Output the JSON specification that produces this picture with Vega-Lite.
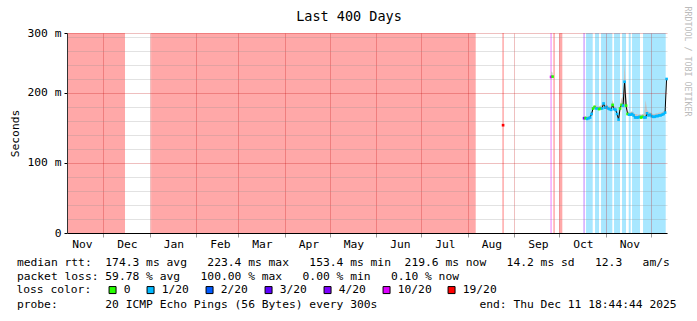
{
  "$schema": "https://vega.github.io/schema/vega-lite/v6.json",
  "width": 600,
  "height": 200,
  "autosize": {"type": "none"},
  "padding": {"left": 67, "top": 33, "right": 30, "bottom": 88},
  "background": "white",
  "config": {
    "view": {"stroke": null},
    "font": "DejaVu Sans Mono",
    "axis": {
      "labelFont": "DejaVu Sans Mono",
      "labelFontSize": 11.3,
      "labelColor": "#000",
      "titleFont": "DejaVu Sans Mono",
      "titleFontSize": 11.3,
      "titleFontWeight": "normal",
      "titleColor": "#000",
      "labelFlush": false,
      "labelOverlap": false
    }
  },
  "title": {
    "text": "Last 400 Days",
    "font": "DejaVu Sans Mono",
    "fontSize": 13.5,
    "fontWeight": "normal",
    "color": "#000",
    "anchor": "middle",
    "dx": -18,
    "offset": -17
  },
  "datasets": {
    "bands": [
      {"start": "2024-11-06T18:44:44", "end": "2024-12-15T11:00:00", "loss": "19/20"},
      {"start": "2025-01-01T20:00:00", "end": "2025-08-06T06:00:00", "loss": "19/20"},
      {"start": "2025-08-24T00:00:00", "end": "2025-08-25T00:00:00", "loss": "19/20"},
      {"start": "2025-09-25T00:00:00", "end": "2025-09-26T00:00:00", "loss": "10/20"},
      {"start": "2025-09-27T00:00:00", "end": "2025-09-28T00:00:00", "loss": "19/20"},
      {"start": "2025-10-01T00:00:00", "end": "2025-10-03T00:00:00", "loss": "19/20"},
      {"start": "2025-10-17T00:00:00", "end": "2025-10-18T00:00:00", "loss": "4/20"},
      {"start": "2025-10-18T19:00:00", "end": "2025-10-23T06:00:00", "loss": "1/20"},
      {"start": "2025-10-24T19:00:00", "end": "2025-10-27T11:00:00", "loss": "1/20"},
      {"start": "2025-10-28T19:00:00", "end": "2025-11-05T08:00:00", "loss": "1/20"},
      {"start": "2025-11-06T11:00:00", "end": "2025-11-10T11:00:00", "loss": "1/20"},
      {"start": "2025-11-11T19:00:00", "end": "2025-11-14T11:00:00", "loss": "1/20"},
      {"start": "2025-11-16T06:00:00", "end": "2025-11-17T14:00:00", "loss": "1/20"},
      {"start": "2025-11-18T11:00:00", "end": "2025-11-23T19:00:00", "loss": "1/20"},
      {"start": "2025-11-25T19:00:00", "end": "2025-12-10T22:00:00", "loss": "1/20"}
    ],
    "rtt": [
      {"t": "2025-08-24T12:00:00", "ms": 154, "lo": 153.4, "hi": 156, "loss": "19/20", "run": 1},
      {"t": "2025-09-25T12:00:00", "ms": 223, "lo": 222, "hi": 231, "loss": "10/20", "run": 2},
      {"t": "2025-09-26T12:00:00", "ms": 223.4, "lo": 222, "hi": 229, "loss": "0", "run": 2},
      {"t": "2025-10-17T12:00:00", "ms": 164, "lo": 162, "hi": 166, "loss": "4/20", "run": 3},
      {"t": "2025-10-18T12:00:00", "ms": 164, "lo": 163, "hi": 167, "loss": "0", "run": 3},
      {"t": "2025-10-19T12:00:00", "ms": 163, "lo": 162, "hi": 166, "loss": "1/20", "run": 3},
      {"t": "2025-10-20T12:00:00", "ms": 164, "lo": 163, "hi": 167, "loss": "1/20", "run": 3},
      {"t": "2025-10-21T12:00:00", "ms": 165, "lo": 164, "hi": 168, "loss": "1/20", "run": 3},
      {"t": "2025-10-22T12:00:00", "ms": 170, "lo": 168, "hi": 173, "loss": "1/20", "run": 3},
      {"t": "2025-10-23T12:00:00", "ms": 178, "lo": 176, "hi": 181, "loss": "0", "run": 3},
      {"t": "2025-10-24T12:00:00", "ms": 180, "lo": 178, "hi": 183, "loss": "0", "run": 3},
      {"t": "2025-10-25T12:00:00", "ms": 178, "lo": 177, "hi": 182, "loss": "1/20", "run": 3},
      {"t": "2025-10-26T12:00:00", "ms": 178, "lo": 177, "hi": 181, "loss": "1/20", "run": 3},
      {"t": "2025-10-27T12:00:00", "ms": 177, "lo": 176, "hi": 181, "loss": "0", "run": 3},
      {"t": "2025-10-28T12:00:00", "ms": 178, "lo": 177, "hi": 182, "loss": "0", "run": 3},
      {"t": "2025-10-29T12:00:00", "ms": 178, "lo": 176, "hi": 182, "loss": "1/20", "run": 3},
      {"t": "2025-10-30T12:00:00", "ms": 185, "lo": 182, "hi": 188, "loss": "1/20", "run": 3},
      {"t": "2025-10-31T12:00:00", "ms": 179, "lo": 177, "hi": 183, "loss": "1/20", "run": 3},
      {"t": "2025-11-01T12:00:00", "ms": 180, "lo": 178, "hi": 184, "loss": "1/20", "run": 3},
      {"t": "2025-11-02T12:00:00", "ms": 178, "lo": 176, "hi": 181, "loss": "1/20", "run": 3},
      {"t": "2025-11-03T12:00:00", "ms": 177, "lo": 175, "hi": 181, "loss": "1/20", "run": 3},
      {"t": "2025-11-04T12:00:00", "ms": 176, "lo": 174, "hi": 180, "loss": "1/20", "run": 3},
      {"t": "2025-11-05T12:00:00", "ms": 183, "lo": 180, "hi": 190, "loss": "0", "run": 3},
      {"t": "2025-11-06T12:00:00", "ms": 177, "lo": 175, "hi": 181, "loss": "1/20", "run": 3},
      {"t": "2025-11-07T12:00:00", "ms": 176, "lo": 174, "hi": 180, "loss": "1/20", "run": 3},
      {"t": "2025-11-08T12:00:00", "ms": 170, "lo": 168, "hi": 175, "loss": "1/20", "run": 3},
      {"t": "2025-11-09T12:00:00", "ms": 162, "lo": 161, "hi": 167, "loss": "1/20", "run": 3},
      {"t": "2025-11-10T12:00:00", "ms": 178, "lo": 176, "hi": 182, "loss": "0", "run": 3},
      {"t": "2025-11-11T12:00:00", "ms": 183, "lo": 181, "hi": 192, "loss": "0", "run": 3},
      {"t": "2025-11-12T12:00:00", "ms": 182, "lo": 180, "hi": 195, "loss": "1/20", "run": 3},
      {"t": "2025-11-13T12:00:00", "ms": 216, "lo": 182, "hi": 242, "loss": "1/20", "run": 3},
      {"t": "2025-11-14T12:00:00", "ms": 182, "lo": 179, "hi": 200, "loss": "0", "run": 3},
      {"t": "2025-11-15T12:00:00", "ms": 170, "lo": 168, "hi": 174, "loss": "0", "run": 3},
      {"t": "2025-11-16T12:00:00", "ms": 169, "lo": 168, "hi": 173, "loss": "1/20", "run": 3},
      {"t": "2025-11-17T12:00:00", "ms": 169, "lo": 168, "hi": 173, "loss": "1/20", "run": 3},
      {"t": "2025-11-18T12:00:00", "ms": 170, "lo": 168, "hi": 174, "loss": "1/20", "run": 3},
      {"t": "2025-11-19T12:00:00", "ms": 168, "lo": 167, "hi": 172, "loss": "1/20", "run": 3},
      {"t": "2025-11-20T12:00:00", "ms": 165, "lo": 164, "hi": 170, "loss": "1/20", "run": 3},
      {"t": "2025-11-21T12:00:00", "ms": 165, "lo": 164, "hi": 170, "loss": "1/20", "run": 3},
      {"t": "2025-11-22T12:00:00", "ms": 165, "lo": 164, "hi": 169, "loss": "1/20", "run": 3},
      {"t": "2025-11-23T12:00:00", "ms": 166, "lo": 164, "hi": 170, "loss": "1/20", "run": 3},
      {"t": "2025-11-24T12:00:00", "ms": 165, "lo": 164, "hi": 169, "loss": "0", "run": 3},
      {"t": "2025-11-25T12:00:00", "ms": 166, "lo": 165, "hi": 170, "loss": "0", "run": 3},
      {"t": "2025-11-26T12:00:00", "ms": 165, "lo": 164, "hi": 170, "loss": "1/20", "run": 3},
      {"t": "2025-11-27T12:00:00", "ms": 165, "lo": 164, "hi": 190, "loss": "1/20", "run": 3},
      {"t": "2025-11-28T12:00:00", "ms": 171, "lo": 168, "hi": 176, "loss": "1/20", "run": 3},
      {"t": "2025-11-29T12:00:00", "ms": 168, "lo": 166, "hi": 173, "loss": "1/20", "run": 3},
      {"t": "2025-11-30T12:00:00", "ms": 169, "lo": 167, "hi": 173, "loss": "1/20", "run": 3},
      {"t": "2025-12-01T12:00:00", "ms": 167, "lo": 166, "hi": 171, "loss": "1/20", "run": 3},
      {"t": "2025-12-02T12:00:00", "ms": 166, "lo": 165, "hi": 170, "loss": "1/20", "run": 3},
      {"t": "2025-12-03T12:00:00", "ms": 166, "lo": 165, "hi": 170, "loss": "1/20", "run": 3},
      {"t": "2025-12-04T12:00:00", "ms": 167, "lo": 166, "hi": 171, "loss": "1/20", "run": 3},
      {"t": "2025-12-05T12:00:00", "ms": 167, "lo": 166, "hi": 171, "loss": "1/20", "run": 3},
      {"t": "2025-12-06T12:00:00", "ms": 168, "lo": 167, "hi": 172, "loss": "1/20", "run": 3},
      {"t": "2025-12-07T12:00:00", "ms": 168, "lo": 167, "hi": 172, "loss": "1/20", "run": 3},
      {"t": "2025-12-08T12:00:00", "ms": 169, "lo": 167, "hi": 173, "loss": "1/20", "run": 3},
      {"t": "2025-12-09T12:00:00", "ms": 170, "lo": 168, "hi": 174, "loss": "1/20", "run": 3},
      {"t": "2025-12-10T12:00:00", "ms": 172, "lo": 170, "hi": 175, "loss": "1/20", "run": 3},
      {"t": "2025-12-11T12:00:00", "ms": 220, "lo": 218, "hi": 224, "loss": "1/20", "run": 3}
    ]
  },
  "layer": [
    {
      "data": {"name": "bands"},
      "mark": {"type": "rect", "opacity": 0.34},
      "encoding": {
        "x": {
          "field": "start", "type": "temporal",
          "scale": {"domain": [{"year": 2024, "month": 11, "date": 6, "hours": 18, "minutes": 44, "seconds": 44}, {"year": 2025, "month": 12, "date": 11, "hours": 18, "minutes": 44, "seconds": 44}], "nice": false},
          "axis": null
        },
        "x2": {"field": "end"},
        "color": {
          "field": "loss", "type": "nominal",
          "scale": {"domain": ["0", "1/20", "2/20", "3/20", "4/20", "10/20", "19/20"], "range": ["#26ff00", "#00b8ff", "#0059ff", "#5e00ff", "#7e00ff", "#dd00ff", "#ff0000"]},
          "legend": {
            "orient": "none", "legendX": -50.6, "legendY": 251, "direction": "horizontal", "columns": 7, "gridAlign": "each",
            "title": "loss color:", "titleOrient": "left", "titleFont": "DejaVu Sans Mono", "titleFontSize": 11.3, "titleFontWeight": "normal", "titleColor": "#000", "titlePadding": 15.5,
            "labelFont": "DejaVu Sans Mono", "labelFontSize": 11.3, "labelColor": "#000", "labelOffset": 5.5, "labelLimit": 100,
            "symbolType": "square", "symbolSize": 49, "symbolStrokeColor": "#000", "symbolStrokeWidth": 1, "symbolOpacity": 1, "columnPadding": 14
          }
        }
      }
    },
    {
      "data": {"name": "rtt"},
      "mark": {"type": "area", "color": "#c4c4c4"},
      "encoding": {
        "x": {
          "field": "t", "type": "temporal",
          "scale": {"domain": [{"year": 2024, "month": 11, "date": 6, "hours": 18, "minutes": 44, "seconds": 44}, {"year": 2025, "month": 12, "date": 11, "hours": 18, "minutes": 44, "seconds": 44}], "nice": false},
          "axis": {
            "orient": "bottom",
            "values": [
              {"year": 2024, "month": 12, "date": 1}, {"year": 2025, "month": 1, "date": 1}, {"year": 2025, "month": 2, "date": 1},
              {"year": 2025, "month": 3, "date": 1}, {"year": 2025, "month": 4, "date": 1}, {"year": 2025, "month": 5, "date": 1},
              {"year": 2025, "month": 6, "date": 1}, {"year": 2025, "month": 7, "date": 1}, {"year": 2025, "month": 8, "date": 1},
              {"year": 2025, "month": 9, "date": 1}, {"year": 2025, "month": 10, "date": 1}, {"year": 2025, "month": 11, "date": 1},
              {"year": 2025, "month": 12, "date": 1}
            ],
            "grid": true, "gridColor": "#c00000", "gridOpacity": 0.25,
            "labels": false, "ticks": true, "tickSize": 4, "tickColor": "#999999",
            "domain": true, "domainColor": "#000", "domainWidth": 1,
            "zindex": 1,
            "title": [
              "median rtt:\u00a0\u00a0174.3 ms avg\u00a0\u00a0\u00a0223.4 ms max\u00a0\u00a0\u00a0153.4 ms min\u00a0\u00a0219.6 ms now\u00a0\u00a0\u00a014.2 ms sd\u00a0\u00a0\u00a012.3\u00a0\u00a0\u00a0am/s",
              "packet loss: 59.78 % avg\u00a0\u00a0\u00a0100.00 % max\u00a0\u00a0\u00a00.00 % min\u00a0\u00a0\u00a00.10 % now"
            ],
            "titleX": -50.6, "titleY": 23, "titleAlign": "left", "titleAnchor": "start", "titleBaseline": "top", "titleLineHeight": 14
          }
        },
        "y": {
          "field": "hi", "type": "quantitative",
          "scale": {"domain": [0, 285.7], "nice": false, "zero": true},
          "axis": {
            "orient": "left",
            "values": [20, 40, 60, 80, 120, 140, 160, 180, 220, 240, 260, 280],
            "grid": true, "gridColor": "#8c8c8c", "gridOpacity": 0.25,
            "labels": false, "ticks": false, "domain": false, "title": null, "zindex": 1
          }
        },
        "y2": {"field": "lo"},
        "detail": {"field": "run", "type": "nominal"}
      }
    },
    {
      "data": {"name": "rtt"},
      "mark": {"type": "line", "color": "#000", "strokeWidth": 1},
      "encoding": {
        "x": {
          "field": "t", "type": "temporal",
          "scale": {"domain": [{"year": 2024, "month": 11, "date": 6, "hours": 18, "minutes": 44, "seconds": 44}, {"year": 2025, "month": 12, "date": 11, "hours": 18, "minutes": 44, "seconds": 44}], "nice": false},
          "axis": {
            "orient": "bottom",
            "values": [
              {"year": 2024, "month": 11, "date": 16, "hours": 16}, {"year": 2024, "month": 12, "date": 16, "hours": 16},
              {"year": 2025, "month": 1, "date": 16, "hours": 16}, {"year": 2025, "month": 2, "date": 16, "hours": 16},
              {"year": 2025, "month": 3, "date": 16, "hours": 16}, {"year": 2025, "month": 4, "date": 16, "hours": 16},
              {"year": 2025, "month": 5, "date": 16, "hours": 16}, {"year": 2025, "month": 6, "date": 16, "hours": 16},
              {"year": 2025, "month": 7, "date": 16, "hours": 16}, {"year": 2025, "month": 8, "date": 16, "hours": 16},
              {"year": 2025, "month": 9, "date": 16, "hours": 16}, {"year": 2025, "month": 10, "date": 16, "hours": 16},
              {"year": 2025, "month": 11, "date": 16, "hours": 16}
            ],
            "format": "%b", "grid": false, "ticks": false, "domain": false, "labelPadding": 5,
            "title": "probe:\u00a0\u00a0\u00a0\u00a0\u00a0\u00a0\u00a020 ICMP Echo Pings (56 Bytes) every 300s\u00a0\u00a0\u00a0\u00a0\u00a0\u00a0\u00a0\u00a0\u00a0\u00a0\u00a0\u00a0\u00a0\u00a0\u00a0end: Thu Dec 11 18:44:44 2025",
            "titleX": -50.6, "titleY": 65, "titleAlign": "left", "titleAnchor": "start", "titleBaseline": "top"
          }
        },
        "y": {
          "field": "ms", "type": "quantitative",
          "scale": {"domain": [0, 285.7], "nice": false, "zero": true},
          "axis": {
            "orient": "left",
            "values": [0, 100, 200, 285.7],
            "labelExpr": "datum.value == 0 ? '0' : (datum.value > 280 ? '300 m' : datum.value + ' m')",
            "grid": true, "gridColor": "#c00000", "gridOpacity": 0.25,
            "ticks": true, "tickSize": 3, "tickColor": "#000", "labelPadding": 3,
            "domain": true, "domainColor": "#333333", "zindex": 1,
            "title": "Seconds", "titlePadding": 6
          }
        },
        "detail": {"field": "run", "type": "nominal"}
      }
    },
    {
      "data": {"name": "rtt"},
      "mark": {"type": "square", "size": 7, "opacity": 1},
      "encoding": {
        "x": {
          "field": "t", "type": "temporal",
          "scale": {"domain": [{"year": 2024, "month": 11, "date": 6, "hours": 18, "minutes": 44, "seconds": 44}, {"year": 2025, "month": 12, "date": 11, "hours": 18, "minutes": 44, "seconds": 44}], "nice": false},
          "axis": null
        },
        "y": {
          "field": "ms", "type": "quantitative",
          "scale": {"domain": [0, 285.7], "nice": false, "zero": true},
          "axis": {
            "orient": "right", "labels": false, "ticks": false, "domain": false, "grid": false,
            "title": "RRDTOOL / TOBI OETIKER", "titleAngle": 90, "titleFont": "DejaVu Sans Mono", "titleFontSize": 8.3,
            "titleColor": "#bbbbbb", "titleX": 19, "titleY": 28, "titleAlign": "center", "titleBaseline": "middle"
          }
        },
        "color": {
          "field": "loss", "type": "nominal",
          "scale": {"domain": ["0", "1/20", "2/20", "3/20", "4/20", "10/20", "19/20"], "range": ["#26ff00", "#00b8ff", "#0059ff", "#5e00ff", "#7e00ff", "#dd00ff", "#ff0000"]},
          "legend": {
            "orient": "none", "legendX": -50.6, "legendY": 251, "direction": "horizontal", "columns": 7, "gridAlign": "each",
            "title": "loss color:", "titleOrient": "left", "titleFont": "DejaVu Sans Mono", "titleFontSize": 11.3, "titleFontWeight": "normal", "titleColor": "#000", "titlePadding": 15.5,
            "labelFont": "DejaVu Sans Mono", "labelFontSize": 11.3, "labelColor": "#000", "labelOffset": 5.5, "labelLimit": 100,
            "symbolType": "square", "symbolSize": 49, "symbolStrokeColor": "#000", "symbolStrokeWidth": 1, "symbolOpacity": 1, "columnPadding": 14
          }
        }
      }
    }
  ],
  "resolve": {"axis": {"x": "independent", "y": "independent"}}
}
